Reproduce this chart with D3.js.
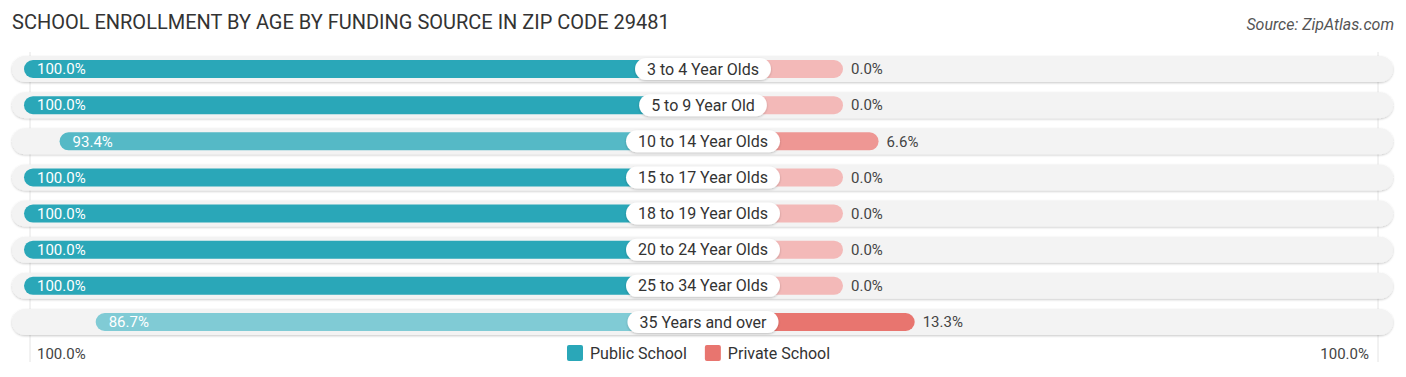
<!DOCTYPE html>
<html>
<head>
<meta charset="utf-8">
<script src="https://cdn.jsdelivr.net/npm/d3@7"></script>
<style>
  body { margin: 0; background: #fff; font-family: Roboto, "Noto Sans", sans-serif; }
  text { font-family: Roboto, "Noto Sans", sans-serif; }
</style>
</head>
<body>
<div id="chart"></div>
<script>
// data
const categories = ["3 to 4 Year Olds", "5 to 9 Year Old", "10 to 14 Year Olds", "15 to 17 Year Olds",
  "18 to 19 Year Olds", "20 to 24 Year Olds", "25 to 34 Year Olds", "35 Years and over"];
const publicValues = [100.0, 100.0, 93.4, 100.0, 100.0, 100.0, 100.0, 86.7];
const privateValues = [0.0, 0.0, 6.6, 0.0, 0.0, 0.0, 0.0, 13.3];
const seriesNames = ["Public School", "Private School"];
const axisLabels = ["100.0%", "100.0%"];

const W = 1406, H = 377;
const cx = 703;        // where the two sides meet
const labelGap = 140;  // room kept for the category pill

const svg = d3.select("#chart").append("svg")
  .attr("width", W)
  .attr("height", H);

svg.append("text")
  .attr("x", 12)
  .attr("y", 29)
  .style("font-size", "20px")
  .style("fill", "#333")
  .text("SCHOOL ENROLLMENT BY AGE BY FUNDING SOURCE IN ZIP CODE 29481");

svg.append("text")
  .attr("x", 1394)
  .attr("y", 30)
  .attr("text-anchor", "end")
  .style("font-size", "16px")
  .style("font-style", "italic")
  .style("fill", "#555")
  .text("Source: ZipAtlas.com");

const y = d3.scalePoint()
  .domain(categories)
  .range([69, 322]);

// value -> bar length past the pill area
const len = d3.scaleLinear().domain([0, 100]).range([0, 539]);

const pubColor = d3.scaleLinear()
  .domain(d3.extent(publicValues))
  .range(["#80cbd5", "#2aa7b8"]);
const privColor = d3.scaleLinear()
  .domain(d3.extent(privateValues))
  .range(["#f3b9b8", "#e8756f"]);

const defs = svg.append("defs");
const f = defs.append("filter").attr("id", "sh").attr("x", "-5%").attr("y", "-30%").attr("width", "110%").attr("height", "160%");
f.append("feDropShadow").attr("dx", 0).attr("dy", 1).attr("stdDeviation", 1.2).attr("flood-color", "#000").attr("flood-opacity", 0.22);

// faint grid lines
[30, 1378].forEach(x => {
  svg.append("line")
    .attr("x1", x).attr("x2", x)
    .attr("y1", 52).attr("y2", 362)
    .attr("stroke", "#e4e4e4")
    .attr("stroke-width", 1);
});

const rows = svg.selectAll("g.row")
  .data(categories.map((c, i) => ({ cat: c, pub: publicValues[i], priv: privateValues[i] })))
  .join("g")
  .attr("class", "row")
  .attr("transform", d => `translate(0, ${y(d.cat)})`);

// background track
rows.append("rect")
  .attr("x", 12)
  .attr("y", -13)
  .attr("width", 1381)
  .attr("height", 26)
  .attr("rx", 13)
  .attr("fill", "#f3f3f3")
  .attr("filter", "url(#sh)");

// public bar (left)
rows.append("rect")
  .attr("x", d => cx - labelGap - len(d.pub))
  .attr("y", -9)
  .attr("width", d => labelGap + len(d.pub))
  .attr("height", 18)
  .attr("rx", 9)
  .attr("fill", d => pubColor(d.pub));

// private bar (right)
rows.append("rect")
  .attr("x", cx - 20)
  .attr("y", -9)
  .attr("width", d => 20 + labelGap + len(d.priv))
  .attr("height", 18)
  .attr("rx", 9)
  .attr("fill", d => privColor(d.priv));

// public value inside the bar
rows.append("text")
  .attr("x", d => cx - labelGap - len(d.pub) + 13)
  .attr("y", 0)
  .attr("dy", "0.35em")
  .style("font-size", "15px")
  .style("fill", "#fff")
  .text(d => d.pub.toFixed(1) + "%");

// private value after the bar
rows.append("text")
  .attr("x", d => cx + labelGap + len(d.priv) + 8)
  .attr("y", 0)
  .attr("dy", "0.35em")
  .style("font-size", "15px")
  .style("fill", "#444")
  .text(d => d.priv.toFixed(1) + "%");

// category pill
rows.each(function(d) {
  const g = d3.select(this);
  const t = g.append("text")
    .attr("x", cx)
    .attr("y", 0)
    .attr("dy", "0.35em")
    .attr("text-anchor", "middle")
    .style("font-size", "16px")
    .style("fill", "#333")
    .text(d.cat);
  const w = t.node().getComputedTextLength() + 24;
  g.insert("rect", "text")
    .attr("x", cx - w / 2)
    .attr("y", -11)
    .attr("width", w)
    .attr("height", 22)
    .attr("rx", 11)
    .attr("fill", "#fff")
    .attr("filter", "url(#sh)");
});

// bottom axis labels
svg.append("text")
  .attr("x", 37)
  .attr("y", 354)
  .attr("dy", "0.35em")
  .style("font-size", "15px")
  .style("fill", "#444")
  .text(axisLabels[0]);

svg.append("text")
  .attr("x", 1369)
  .attr("y", 354)
  .attr("dy", "0.35em")
  .attr("text-anchor", "end")
  .style("font-size", "15px")
  .style("fill", "#444")
  .text(axisLabels[1]);

// legend
const legendColors = ["#2aa7b8", "#e8756f"];
const legend = svg.append("g");
let lx = 567;
seriesNames.forEach((name, i) => {
  const g = legend.append("g").attr("transform", `translate(${lx}, 353)`);
  g.append("rect")
    .attr("x", 0).attr("y", -8)
    .attr("width", 16).attr("height", 16)
    .attr("rx", 2)
    .attr("fill", legendColors[i]);
  const t = g.append("text")
    .attr("x", 23)
    .attr("y", 0)
    .attr("dy", "0.35em")
    .style("font-size", "16px")
    .style("fill", "#333")
    .text(name);
  lx += 23 + t.node().getComputedTextLength() + 18;
});
</script>
</body>
</html>
